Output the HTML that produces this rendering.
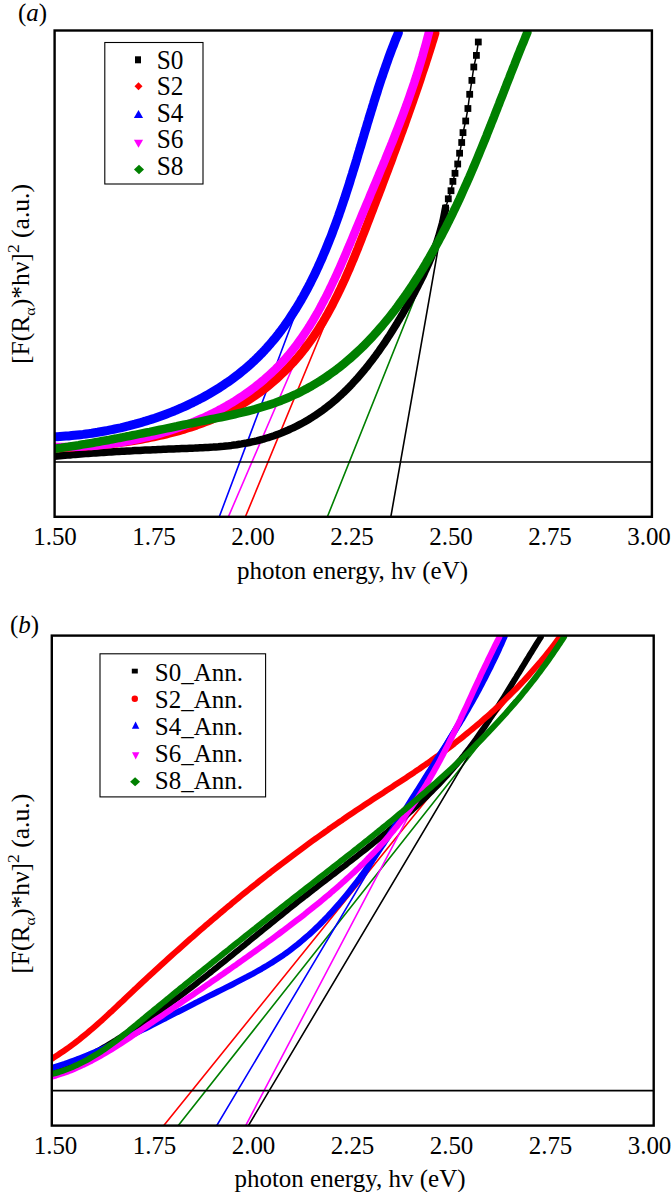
<!DOCTYPE html>
<html><head><meta charset="utf-8"><style>
html,body{margin:0;padding:0;background:#fff;width:672px;height:1192px;overflow:hidden;font-family:"Liberation Serif",serif;}
svg{display:block}
</style></head><body>
<svg width="672" height="1192" viewBox="0 0 672 1192">
<rect width="672" height="1192" fill="#fff"/>
<defs><clipPath id="ca"><rect x="55" y="31" width="596" height="485"/></clipPath><clipPath id="cb"><rect x="52" y="636" width="601" height="489"/></clipPath></defs>
<g clip-path="url(#ca)" fill="none" stroke-linejoin="round" stroke-linecap="round">
<line x1="219.2" y1="517" x2="300.6" y2="300" stroke="#0000ff" stroke-width="1.6"/>
<line x1="228.3" y1="517" x2="321.6" y2="300" stroke="#ff00ff" stroke-width="1.6"/>
<line x1="245.3" y1="517" x2="334.9" y2="300" stroke="#ff0000" stroke-width="1.6"/>
<line x1="327.3" y1="517" x2="434.1" y2="250" stroke="#008000" stroke-width="1.6"/>
<line x1="390.8" y1="517" x2="444.0" y2="215" stroke="#000000" stroke-width="1.6"/>
<path d="M54.6,456.3 L57.2,456.0 L59.8,455.8 L62.3,455.5 L64.9,455.3 L67.5,455.1 L70.1,454.9 L72.7,454.6 L75.2,454.4 L77.8,454.2 L80.4,454.0 L83.0,453.8 L85.6,453.6 L88.1,453.4 L90.7,453.2 L93.3,453.1 L95.9,452.9 L98.5,452.7 L101.0,452.5 L103.6,452.4 L106.2,452.2 L108.8,452.0 L111.4,451.9 L114.0,451.7 L116.5,451.6 L119.1,451.4 L121.7,451.3 L124.3,451.2 L126.9,451.0 L129.5,450.9 L132.1,450.8 L134.7,450.6 L137.3,450.5 L139.9,450.4 L142.5,450.2 L145.1,450.1 L147.7,450.0 L150.3,449.9 L152.9,449.8 L155.5,449.7 L158.1,449.5 L160.7,449.4 L163.3,449.3 L165.9,449.2 L168.5,449.1 L171.1,449.0 L173.8,448.9 L176.4,448.8 L179.0,448.7 L181.6,448.6 L184.2,448.5 L186.9,448.4 L189.5,448.3 L192.1,448.2 L194.8,448.1 L197.4,447.9 L200.0,447.8 L202.6,447.7 L205.3,447.5 L207.9,447.4 L210.5,447.2 L213.1,447.1 L215.8,446.9 L218.4,446.7 L221.0,446.4 L223.6,446.2 L226.2,445.9 L228.8,445.7 L231.4,445.4 L234.0,445.0 L236.6,444.7 L239.1,444.3 L241.7,443.9 L244.2,443.4 L246.8,443.0 L249.3,442.5 L251.9,441.9 L254.4,441.4 L256.9,440.8 L259.4,440.1 L261.9,439.5 L264.3,438.8 L266.8,438.0 L269.3,437.3 L271.7,436.5 L274.1,435.7 L276.5,434.8 L278.9,433.9 L281.3,433.0 L283.7,432.0 L286.1,431.0 L288.4,430.0 L290.7,428.9 L293.1,427.9 L295.4,426.7 L297.6,425.6 L299.9,424.4 L302.2,423.2 L304.4,422.0 L306.6,420.7 L308.8,419.4 L311.0,418.1 L313.2,416.7 L315.3,415.3 L317.4,413.9 L319.6,412.4 L321.7,410.9 L323.7,409.4 L325.8,407.9 L327.8,406.3 L329.8,404.7 L331.8,403.1 L333.8,401.4 L335.7,399.8 L337.7,398.1 L339.6,396.3 L341.5,394.6 L343.4,392.8 L345.2,391.0 L347.1,389.2 L348.9,387.3 L350.7,385.5 L352.5,383.6 L354.3,381.6 L356.0,379.7 L357.8,377.8 L359.5,375.8 L361.2,373.8 L362.9,371.8 L364.6,369.8 L366.2,367.7 L367.9,365.7 L369.5,363.6 L371.1,361.5 L372.7,359.4 L374.3,357.3 L375.9,355.2 L377.4,353.0 L379.0,350.9 L380.5,348.7 L382.0,346.5 L383.5,344.3 L385.0,342.2 L386.5,339.9 L387.9,337.7 L389.4,335.5 L390.8,333.3 L392.2,331.0 L393.6,328.8 L395.0,326.6 L396.4,324.3 L397.7,322.0 L399.1,319.8 L400.4,317.5 L401.8,315.3 L403.1,313.0 L404.4,310.7 L405.7,308.4 L407.0,306.2 L408.3,303.9 L409.5,301.6 L410.8,299.4 L412.0,297.1 L413.3,294.8 L414.5,292.6 L415.7,290.3 L416.9,288.0 L418.1,285.7 L419.2,283.4 L420.4,281.2 L421.5,278.9 L422.7,276.6 L423.8,274.3 L424.8,272.0 L425.9,269.7 L427.0,267.3 L428.0,265.0 L429.0,262.7 L430.0,260.3 L431.0,258.0 L431.9,255.6 L432.9,253.2 L433.8,250.9 L434.7,248.5 L435.5,246.0 L436.4,243.6 L437.2,241.2 L438.0,238.7 L438.8,236.3 L439.5,233.8 L440.2,231.3 L440.9,228.8 L441.6,226.3 L442.3,223.7 L442.9,221.2 L443.5,218.6 L444.0,216.0 L444.5,213.4 L445.0,210.8 L445.5,208.1" stroke="#000" stroke-width="7.5"/>
<polyline points="445.6,208.1 448.3,198.8 451.0,190.7 452.9,181.4 455.0,173.3 457.7,164.0 459.6,153.2 461.7,142.5 463.0,132.6 465.7,121.0 467.9,108.5 469.7,94.3 471.9,80.4 473.8,67.0 476.4,55.4 478.3,42.0" stroke="#000" stroke-width="1.5"/>
<rect x="442.2" y="204.7" width="6.8" height="6.8" fill="#000" stroke="none"/>
<rect x="444.9" y="195.4" width="6.8" height="6.8" fill="#000" stroke="none"/>
<rect x="447.6" y="187.3" width="6.8" height="6.8" fill="#000" stroke="none"/>
<rect x="449.5" y="178.0" width="6.8" height="6.8" fill="#000" stroke="none"/>
<rect x="451.6" y="169.9" width="6.8" height="6.8" fill="#000" stroke="none"/>
<rect x="454.3" y="160.6" width="6.8" height="6.8" fill="#000" stroke="none"/>
<rect x="456.2" y="149.8" width="6.8" height="6.8" fill="#000" stroke="none"/>
<rect x="458.3" y="139.1" width="6.8" height="6.8" fill="#000" stroke="none"/>
<rect x="459.6" y="129.2" width="6.8" height="6.8" fill="#000" stroke="none"/>
<rect x="462.3" y="117.6" width="6.8" height="6.8" fill="#000" stroke="none"/>
<rect x="464.5" y="105.1" width="6.8" height="6.8" fill="#000" stroke="none"/>
<rect x="466.3" y="90.9" width="6.8" height="6.8" fill="#000" stroke="none"/>
<rect x="468.5" y="77.0" width="6.8" height="6.8" fill="#000" stroke="none"/>
<rect x="470.4" y="63.6" width="6.8" height="6.8" fill="#000" stroke="none"/>
<rect x="473.0" y="52.0" width="6.8" height="6.8" fill="#000" stroke="none"/>
<rect x="474.9" y="38.6" width="6.8" height="6.8" fill="#000" stroke="none"/>
<path d="M54.7,448.2 L57.7,448.1 L60.7,448.0 L63.7,447.8 L66.7,447.6 L69.7,447.4 L72.7,447.3 L75.8,447.1 L78.8,446.8 L81.9,446.6 L85.0,446.4 L88.1,446.1 L91.1,445.9 L94.2,445.6 L97.4,445.3 L100.5,445.0 L103.6,444.7 L106.7,444.4 L109.8,444.0 L113.0,443.6 L116.1,443.3 L119.2,442.9 L122.4,442.4 L125.5,442.0 L128.7,441.5 L131.8,441.0 L134.9,440.5 L138.1,440.0 L141.2,439.5 L144.3,438.9 L147.5,438.3 L150.6,437.7 L153.7,437.1 L156.8,436.4 L159.9,435.7 L163.0,435.0 L166.1,434.3 L169.2,433.5 L172.3,432.7 L175.3,431.9 L178.4,431.1 L181.4,430.2 L184.5,429.3 L187.5,428.3 L190.5,427.4 L193.5,426.4 L196.5,425.4 L199.4,424.3 L202.4,423.2 L205.3,422.1 L208.3,421.0 L211.2,419.8 L214.0,418.5 L216.9,417.3 L219.7,416.0 L222.6,414.7 L225.4,413.3 L228.1,411.9 L230.9,410.5 L233.6,409.0 L236.4,407.5 L239.1,406.0 L241.7,404.4 L244.4,402.8 L247.0,401.2 L249.6,399.5 L252.2,397.8 L254.7,396.1 L257.2,394.3 L259.7,392.5 L262.2,390.6 L264.7,388.8 L267.1,386.9 L269.5,384.9 L271.8,383.0 L274.2,381.0 L276.5,379.0 L278.8,376.9 L281.0,374.8 L283.2,372.7 L285.4,370.6 L287.6,368.4 L289.7,366.2 L291.8,363.9 L293.9,361.7 L295.9,359.4 L298.0,357.0 L299.9,354.7 L301.9,352.3 L303.8,349.9 L305.7,347.5 L307.5,345.0 L309.3,342.5 L311.1,340.0 L312.9,337.5 L314.6,334.9 L316.3,332.4 L318.0,329.8 L319.7,327.2 L321.3,324.5 L322.9,321.9 L324.5,319.2 L326.0,316.5 L327.6,313.8 L329.1,311.0 L330.6,308.3 L332.1,305.5 L333.5,302.7 L334.9,299.9 L336.3,297.1 L337.7,294.3 L339.1,291.4 L340.5,288.6 L341.8,285.7 L343.1,282.9 L344.5,280.0 L345.8,277.1 L347.0,274.2 L348.3,271.3 L349.6,268.4 L350.8,265.4 L352.0,262.5 L353.3,259.6 L354.5,256.6 L355.7,253.7 L356.9,250.7 L358.1,247.8 L359.2,244.8 L360.4,241.9 L361.6,238.9 L362.7,235.9 L363.9,233.0 L365.0,230.0 L366.2,227.1 L367.3,224.1 L368.4,221.2 L369.6,218.2 L370.7,215.3 L371.8,212.3 L373.0,209.4 L374.1,206.4 L375.2,203.5 L376.3,200.6 L377.4,197.7 L378.6,194.7 L379.7,191.8 L380.8,188.9 L381.9,186.0 L383.0,183.1 L384.1,180.1 L385.2,177.2 L386.3,174.3 L387.4,171.4 L388.5,168.5 L389.6,165.6 L390.7,162.7 L391.8,159.8 L392.8,156.9 L393.9,153.9 L395.0,151.0 L396.1,148.1 L397.1,145.2 L398.2,142.3 L399.3,139.4 L400.3,136.5 L401.4,133.6 L402.5,130.7 L403.5,127.8 L404.6,124.9 L405.6,121.9 L406.6,119.0 L407.7,116.1 L408.7,113.2 L409.7,110.3 L410.8,107.3 L411.8,104.4 L412.8,101.5 L413.8,98.6 L414.9,95.6 L415.9,92.7 L416.9,89.7 L417.9,86.8 L418.9,83.9 L419.9,80.9 L420.9,77.9 L421.8,75.0 L422.8,72.0 L423.8,69.1 L424.8,66.1 L425.8,63.1 L426.7,60.1 L427.7,57.1 L428.6,54.2 L429.6,51.2 L430.5,48.2 L431.5,45.1 L432.4,42.1 L433.4,39.1 L434.3,36.1 L435.2,33.1" stroke="#ff0000" stroke-width="8.5"/>
<path d="M54.4,436.9 L57.3,436.7 L60.1,436.5 L63.0,436.3 L65.9,436.1 L68.7,435.9 L71.6,435.6 L74.5,435.3 L77.4,435.0 L80.3,434.7 L83.1,434.4 L86.0,434.0 L88.9,433.6 L91.8,433.2 L94.7,432.7 L97.6,432.3 L100.5,431.8 L103.4,431.3 L106.3,430.8 L109.2,430.2 L112.0,429.6 L114.9,429.0 L117.8,428.4 L120.7,427.8 L123.6,427.1 L126.4,426.4 L129.3,425.7 L132.2,424.9 L135.0,424.2 L137.9,423.4 L140.7,422.6 L143.6,421.7 L146.4,420.9 L149.2,420.0 L152.0,419.1 L154.8,418.2 L157.6,417.2 L160.4,416.2 L163.2,415.2 L165.9,414.2 L168.7,413.1 L171.4,412.1 L174.2,411.0 L176.9,409.8 L179.6,408.7 L182.3,407.5 L185.0,406.3 L187.6,405.1 L190.3,403.8 L192.9,402.6 L195.5,401.3 L198.1,399.9 L200.7,398.6 L203.3,397.2 L205.9,395.8 L208.4,394.4 L210.9,392.9 L213.4,391.4 L215.9,389.9 L218.4,388.4 L220.8,386.8 L223.2,385.2 L225.6,383.6 L228.0,382.0 L230.4,380.3 L232.7,378.6 L235.0,376.9 L237.3,375.2 L239.6,373.4 L241.8,371.6 L244.0,369.8 L246.2,367.9 L248.4,366.1 L250.5,364.2 L252.6,362.2 L254.7,360.3 L256.8,358.3 L258.8,356.3 L260.8,354.2 L262.8,352.2 L264.8,350.1 L266.7,348.0 L268.6,345.8 L270.5,343.7 L272.3,341.5 L274.2,339.3 L276.0,337.1 L277.8,334.8 L279.5,332.5 L281.3,330.2 L283.0,327.9 L284.7,325.6 L286.3,323.2 L288.0,320.9 L289.6,318.5 L291.2,316.0 L292.8,313.6 L294.3,311.2 L295.9,308.7 L297.4,306.2 L298.9,303.7 L300.4,301.2 L301.8,298.7 L303.3,296.2 L304.7,293.6 L306.1,291.0 L307.5,288.5 L308.8,285.9 L310.2,283.3 L311.5,280.6 L312.8,278.0 L314.1,275.4 L315.4,272.7 L316.6,270.1 L317.9,267.4 L319.1,264.7 L320.3,262.0 L321.5,259.3 L322.7,256.6 L323.8,253.9 L325.0,251.2 L326.1,248.5 L327.2,245.8 L328.3,243.0 L329.4,240.3 L330.5,237.6 L331.6,234.8 L332.6,232.1 L333.6,229.3 L334.7,226.5 L335.7,223.8 L336.7,221.0 L337.7,218.3 L338.7,215.5 L339.6,212.7 L340.6,209.9 L341.6,207.1 L342.5,204.4 L343.4,201.6 L344.4,198.8 L345.3,196.0 L346.2,193.2 L347.1,190.4 L348.0,187.6 L348.9,184.8 L349.8,182.0 L350.6,179.2 L351.5,176.4 L352.4,173.6 L353.2,170.8 L354.1,168.0 L355.0,165.2 L355.8,162.4 L356.7,159.6 L357.5,156.8 L358.3,153.9 L359.2,151.1 L360.0,148.3 L360.9,145.5 L361.7,142.7 L362.5,139.9 L363.4,137.1 L364.2,134.3 L365.0,131.5 L365.9,128.7 L366.7,125.9 L367.5,123.1 L368.4,120.3 L369.2,117.5 L370.1,114.7 L370.9,111.9 L371.8,109.1 L372.6,106.4 L373.5,103.6 L374.3,100.8 L375.2,98.0 L376.1,95.2 L377.0,92.5 L377.8,89.7 L378.7,86.9 L379.6,84.2 L380.5,81.4 L381.4,78.7 L382.4,75.9 L383.3,73.2 L384.2,70.5 L385.2,67.7 L386.1,65.0 L387.1,62.3 L388.0,59.6 L389.0,56.8 L390.0,54.1 L391.0,51.4 L392.0,48.7 L393.1,46.1 L394.1,43.4 L395.1,40.7 L396.2,38.0 L397.3,35.4 L398.4,32.7" stroke="#0000ff" stroke-width="9"/>
<path d="M54.6,446.8 L57.6,446.9 L60.6,447.0 L63.7,447.0 L66.7,447.0 L69.7,446.9 L72.7,446.9 L75.8,446.8 L78.8,446.7 L81.9,446.5 L84.9,446.3 L88.0,446.1 L91.0,445.9 L94.1,445.7 L97.2,445.4 L100.3,445.1 L103.3,444.8 L106.4,444.4 L109.5,444.0 L112.5,443.6 L115.6,443.1 L118.7,442.7 L121.7,442.2 L124.8,441.7 L127.9,441.1 L130.9,440.5 L134.0,439.9 L137.1,439.3 L140.1,438.6 L143.1,437.9 L146.2,437.2 L149.2,436.5 L152.2,435.7 L155.3,434.9 L158.3,434.1 L161.3,433.2 L164.3,432.3 L167.2,431.4 L170.2,430.5 L173.2,429.5 L176.1,428.5 L179.1,427.5 L182.0,426.4 L184.9,425.4 L187.8,424.2 L190.7,423.1 L193.6,421.9 L196.5,420.7 L199.3,419.5 L202.2,418.3 L205.0,417.0 L207.8,415.7 L210.6,414.3 L213.3,413.0 L216.1,411.6 L218.8,410.1 L221.5,408.7 L224.2,407.2 L226.9,405.7 L229.5,404.1 L232.2,402.6 L234.8,401.0 L237.4,399.3 L239.9,397.7 L242.5,396.0 L245.0,394.3 L247.5,392.5 L250.0,390.7 L252.4,388.9 L254.8,387.1 L257.2,385.2 L259.6,383.3 L261.9,381.4 L264.3,379.4 L266.5,377.4 L268.8,375.4 L271.0,373.4 L273.2,371.3 L275.4,369.2 L277.5,367.1 L279.6,364.9 L281.7,362.7 L283.8,360.5 L285.8,358.2 L287.8,355.9 L289.7,353.6 L291.6,351.3 L293.5,348.9 L295.4,346.5 L297.2,344.1 L299.0,341.6 L300.8,339.1 L302.5,336.6 L304.2,334.1 L305.9,331.6 L307.6,329.0 L309.3,326.4 L310.9,323.8 L312.5,321.2 L314.1,318.5 L315.6,315.9 L317.2,313.2 L318.7,310.5 L320.2,307.8 L321.6,305.0 L323.1,302.3 L324.5,299.5 L326.0,296.8 L327.4,294.0 L328.8,291.2 L330.1,288.4 L331.5,285.5 L332.8,282.7 L334.2,279.9 L335.5,277.0 L336.8,274.2 L338.1,271.3 L339.4,268.4 L340.7,265.6 L341.9,262.7 L343.2,259.8 L344.4,256.9 L345.7,254.0 L346.9,251.1 L348.1,248.2 L349.4,245.3 L350.6,242.4 L351.8,239.5 L353.0,236.6 L354.2,233.7 L355.4,230.8 L356.6,227.9 L357.8,225.0 L359.0,222.2 L360.2,219.3 L361.4,216.4 L362.6,213.5 L363.8,210.7 L365.0,207.8 L366.2,205.0 L367.4,202.1 L368.6,199.3 L369.8,196.5 L370.9,193.6 L372.1,190.8 L373.3,188.0 L374.5,185.1 L375.7,182.3 L376.9,179.5 L378.1,176.7 L379.2,173.9 L380.4,171.0 L381.6,168.2 L382.8,165.4 L383.9,162.6 L385.1,159.8 L386.2,157.0 L387.4,154.2 L388.5,151.3 L389.7,148.5 L390.8,145.7 L392.0,142.9 L393.1,140.1 L394.2,137.2 L395.3,134.4 L396.4,131.6 L397.5,128.8 L398.6,125.9 L399.7,123.1 L400.8,120.2 L401.9,117.4 L403.0,114.5 L404.0,111.7 L405.1,108.8 L406.1,105.9 L407.2,103.1 L408.2,100.2 L409.2,97.3 L410.2,94.4 L411.2,91.5 L412.2,88.6 L413.2,85.7 L414.2,82.8 L415.1,79.8 L416.1,76.9 L417.0,74.0 L418.0,71.0 L418.9,68.0 L419.8,65.1 L420.7,62.1 L421.6,59.1 L422.5,56.1 L423.3,53.0 L424.2,50.0 L425.0,47.0 L425.9,43.9 L426.7,40.9 L427.5,37.8 L428.3,34.7 L429.1,31.6" stroke="#ff00ff" stroke-width="8.5"/>
<path d="M54.6,448.7 L58.1,448.2 L61.5,447.8 L64.9,447.3 L68.3,446.8 L71.7,446.2 L75.2,445.7 L78.6,445.2 L82.0,444.6 L85.4,444.1 L88.8,443.5 L92.2,442.9 L95.6,442.3 L99.0,441.7 L102.3,441.1 L105.7,440.5 L109.1,439.9 L112.5,439.2 L115.9,438.6 L119.3,437.9 L122.7,437.3 L126.1,436.6 L129.4,436.0 L132.8,435.3 L136.2,434.6 L139.6,433.9 L143.0,433.2 L146.4,432.5 L149.7,431.9 L153.1,431.2 L156.5,430.5 L159.9,429.8 L163.3,429.1 L166.7,428.4 L170.1,427.7 L173.5,427.0 L176.9,426.3 L180.3,425.5 L183.7,424.8 L187.1,424.1 L190.5,423.4 L193.9,422.8 L197.3,422.1 L200.7,421.4 L204.1,420.7 L207.6,420.0 L211.0,419.3 L214.4,418.6 L217.8,417.9 L221.2,417.2 L224.6,416.5 L228.0,415.7 L231.4,415.0 L234.8,414.2 L238.2,413.4 L241.6,412.6 L245.0,411.8 L248.3,411.0 L251.7,410.1 L255.0,409.2 L258.3,408.2 L261.6,407.2 L264.9,406.2 L268.2,405.2 L271.5,404.1 L274.7,403.0 L277.9,401.8 L281.1,400.6 L284.3,399.3 L287.4,398.0 L290.6,396.6 L293.7,395.2 L296.8,393.8 L299.8,392.3 L302.9,390.7 L305.9,389.2 L308.9,387.5 L311.8,385.9 L314.8,384.1 L317.7,382.4 L320.6,380.6 L323.4,378.7 L326.3,376.8 L329.1,374.9 L331.8,372.9 L334.6,370.9 L337.3,368.9 L340.0,366.8 L342.7,364.7 L345.3,362.5 L347.9,360.3 L350.5,358.1 L353.1,355.8 L355.6,353.5 L358.1,351.1 L360.6,348.8 L363.1,346.4 L365.5,343.9 L367.9,341.5 L370.3,339.0 L372.7,336.5 L375.0,333.9 L377.3,331.3 L379.6,328.7 L381.9,326.1 L384.1,323.4 L386.3,320.8 L388.5,318.1 L390.7,315.3 L392.8,312.6 L395.0,309.8 L397.1,307.0 L399.1,304.2 L401.2,301.4 L403.2,298.5 L405.3,295.7 L407.3,292.8 L409.2,289.9 L411.2,287.0 L413.1,284.1 L415.0,281.1 L416.9,278.2 L418.8,275.2 L420.6,272.2 L422.5,269.2 L424.3,266.2 L426.1,263.2 L427.8,260.2 L429.6,257.2 L431.3,254.2 L433.0,251.1 L434.7,248.1 L436.4,245.0 L438.1,242.0 L439.7,238.9 L441.3,235.9 L442.9,232.8 L444.5,229.7 L446.1,226.7 L447.6,223.6 L449.2,220.5 L450.7,217.4 L452.2,214.3 L453.7,211.2 L455.2,208.1 L456.7,205.0 L458.1,201.9 L459.6,198.8 L461.0,195.7 L462.4,192.6 L463.8,189.4 L465.2,186.3 L466.6,183.2 L468.0,180.0 L469.4,176.9 L470.7,173.8 L472.1,170.6 L473.4,167.5 L474.8,164.3 L476.1,161.2 L477.4,158.0 L478.7,154.8 L480.0,151.7 L481.3,148.5 L482.6,145.3 L483.9,142.1 L485.2,139.0 L486.5,135.8 L487.7,132.6 L489.0,129.4 L490.3,126.2 L491.5,123.0 L492.8,119.8 L494.1,116.6 L495.3,113.4 L496.6,110.2 L497.8,107.0 L499.1,103.8 L500.3,100.6 L501.6,97.3 L502.9,94.1 L504.1,90.9 L505.4,87.7 L506.6,84.4 L507.9,81.2 L509.2,78.0 L510.4,74.7 L511.7,71.5 L513.0,68.2 L514.3,65.0 L515.5,61.8 L516.8,58.5 L518.1,55.2 L519.4,52.0 L520.7,48.7 L522.0,45.5 L523.4,42.2 L524.7,39.0 L526.0,35.7 L527.4,32.4" stroke="#008000" stroke-width="8.6"/>
</g>
<line x1="54" y1="462" x2="652" y2="462" stroke="#000" stroke-width="1.6"/>
<rect x="54.6" y="30.5" width="597.3" height="486.3" fill="none" stroke="#000" stroke-width="2.4"/>
<rect x="104.8" y="42.5" width="98.2" height="141.5" fill="#fff" stroke="#000" stroke-width="1.1"/>
<text transform="translate(156.8,69.0) scale(1,1.06)" font-family="Liberation Serif" font-size="25.3">S0</text>
<text transform="translate(156.8,95.3) scale(1,1.06)" font-family="Liberation Serif" font-size="25.3">S2</text>
<text transform="translate(156.8,121.8) scale(1,1.06)" font-family="Liberation Serif" font-size="25.3">S4</text>
<text transform="translate(156.8,148.3) scale(1,1.06)" font-family="Liberation Serif" font-size="25.3">S6</text>
<text transform="translate(156.8,175.0) scale(1,1.06)" font-family="Liberation Serif" font-size="25.3">S8</text>
<rect x="135" y="56.3" width="6" height="7" fill="#000"/>
<polygon points="138.5,82.3 142.5,86.3 138.5,90.3 134.5,86.3" fill="#ff0000"/>
<polygon points="138.5,110.0 143.1,118.0 133.9,118.0" fill="#0000ff"/>
<polygon points="138.5,147.70000000000002 143.1,139.70000000000002 133.9,139.70000000000002" fill="#ff00ff"/>
<polygon points="139.0,164.7 144.0,169.5 139.0,174.3 134.0,169.5" fill="#008000"/>
<g clip-path="url(#cb)" fill="none" stroke-linejoin="round" stroke-linecap="round">
<line x1="163.4" y1="1126" x2="507.2" y2="700" stroke="#ff0000" stroke-width="1.6"/>
<line x1="177.9" y1="1126" x2="514.4" y2="700" stroke="#008000" stroke-width="1.6"/>
<line x1="216.5" y1="1126" x2="470.4" y2="700" stroke="#0000ff" stroke-width="1.6"/>
<line x1="245.5" y1="1126" x2="469.6" y2="700" stroke="#ff00ff" stroke-width="1.6"/>
<line x1="248.2" y1="1126" x2="489.8" y2="720" stroke="#000000" stroke-width="1.6"/>
<path d="M53.0,1073.7 L56.0,1072.3 L59.1,1070.9 L62.1,1069.5 L65.2,1068.0 L68.2,1066.6 L71.2,1065.1 L74.2,1063.6 L77.2,1062.1 L80.1,1060.5 L83.1,1059.0 L86.0,1057.4 L89.0,1055.8 L91.9,1054.2 L94.8,1052.6 L97.7,1051.0 L100.6,1049.3 L103.4,1047.7 L106.3,1046.0 L109.1,1044.3 L112.0,1042.6 L114.8,1040.9 L117.6,1039.1 L120.4,1037.4 L123.2,1035.6 L126.0,1033.8 L128.8,1032.1 L131.6,1030.2 L134.4,1028.4 L137.1,1026.6 L139.9,1024.8 L142.6,1022.9 L145.3,1021.0 L148.1,1019.2 L150.8,1017.3 L153.5,1015.4 L156.2,1013.5 L158.9,1011.6 L161.6,1009.6 L164.3,1007.7 L166.9,1005.7 L169.6,1003.8 L172.3,1001.8 L174.9,999.8 L177.6,997.9 L180.2,995.9 L182.9,993.9 L185.5,991.9 L188.1,989.9 L190.8,987.8 L193.4,985.8 L196.0,983.8 L198.6,981.7 L201.3,979.7 L203.9,977.6 L206.5,975.6 L209.1,973.5 L211.7,971.5 L214.3,969.4 L216.9,967.3 L219.5,965.2 L222.1,963.1 L224.7,961.1 L227.3,959.0 L229.8,956.9 L232.4,954.8 L235.0,952.7 L237.6,950.6 L240.2,948.5 L242.8,946.4 L245.4,944.3 L248.0,942.1 L250.5,940.0 L253.1,937.9 L255.7,935.8 L258.3,933.7 L260.9,931.6 L263.5,929.5 L266.1,927.4 L268.7,925.3 L271.3,923.2 L273.9,921.1 L276.5,919.0 L279.1,916.9 L281.7,914.8 L284.3,912.7 L286.9,910.6 L289.5,908.5 L292.1,906.4 L294.8,904.3 L297.4,902.2 L300.0,900.2 L302.7,898.1 L305.3,896.0 L307.9,894.0 L310.6,891.9 L313.2,889.8 L315.9,887.8 L318.6,885.7 L321.2,883.7 L323.9,881.7 L326.5,879.6 L329.2,877.6 L331.9,875.5 L334.5,873.5 L337.2,871.4 L339.8,869.4 L342.5,867.3 L345.2,865.3 L347.8,863.2 L350.5,861.2 L353.1,859.1 L355.8,857.1 L358.4,855.0 L361.0,852.9 L363.7,850.9 L366.3,848.8 L368.9,846.7 L371.5,844.6 L374.1,842.5 L376.7,840.4 L379.3,838.3 L381.9,836.2 L384.5,834.1 L387.1,832.0 L389.6,829.8 L392.2,827.7 L394.7,825.5 L397.3,823.4 L399.8,821.2 L402.3,819.0 L404.8,816.8 L407.3,814.6 L409.7,812.4 L412.2,810.2 L414.6,807.9 L417.1,805.7 L419.5,803.4 L421.9,801.1 L424.3,798.8 L426.7,796.5 L429.0,794.2 L431.4,791.9 L433.7,789.5 L436.0,787.2 L438.3,784.8 L440.6,782.4 L442.8,780.0 L445.1,777.5 L447.3,775.1 L449.5,772.6 L451.7,770.1 L453.8,767.6 L456.0,765.1 L458.1,762.5 L460.2,760.0 L462.2,757.4 L464.3,754.8 L466.3,752.1 L468.4,749.5 L470.4,746.8 L472.3,744.2 L474.3,741.5 L476.3,738.8 L478.2,736.1 L480.1,733.3 L482.0,730.6 L483.9,727.9 L485.8,725.1 L487.6,722.3 L489.5,719.5 L491.3,716.7 L493.2,713.9 L495.0,711.1 L496.8,708.3 L498.6,705.5 L500.4,702.6 L502.2,699.8 L504.0,697.0 L505.8,694.1 L507.5,691.3 L509.3,688.4 L511.0,685.6 L512.8,682.7 L514.5,679.8 L516.3,677.0 L518.0,674.1 L519.8,671.3 L521.5,668.4 L523.3,665.5 L525.0,662.7 L526.7,659.8 L528.5,657.0 L530.2,654.1 L532.0,651.3 L533.7,648.5 L535.5,645.6 L537.2,642.8 L539.0,640.0 L540.8,637.2" stroke-width="6" stroke="#000"/>
<path d="M52.1,1058.6 L55.0,1056.8 L57.8,1055.0 L60.6,1053.1 L63.4,1051.2 L66.2,1049.3 L68.9,1047.4 L71.6,1045.4 L74.3,1043.4 L76.9,1041.3 L79.5,1039.3 L82.1,1037.2 L84.7,1035.1 L87.3,1033.0 L89.8,1030.8 L92.3,1028.7 L94.9,1026.5 L97.4,1024.3 L99.8,1022.1 L102.3,1019.9 L104.8,1017.6 L107.2,1015.4 L109.6,1013.1 L112.1,1010.9 L114.5,1008.6 L116.9,1006.3 L119.3,1004.0 L121.8,1001.8 L124.2,999.5 L126.6,997.2 L129.0,994.9 L131.4,992.6 L133.8,990.3 L136.2,988.1 L138.7,985.8 L141.1,983.5 L143.5,981.3 L146.0,979.0 L148.4,976.7 L150.8,974.5 L153.3,972.2 L155.7,970.0 L158.2,967.7 L160.6,965.5 L163.1,963.2 L165.6,961.0 L168.0,958.8 L170.5,956.5 L173.0,954.3 L175.4,952.1 L177.9,949.9 L180.4,947.7 L182.9,945.5 L185.4,943.2 L187.9,941.0 L190.4,938.8 L192.9,936.7 L195.4,934.5 L197.9,932.3 L200.4,930.1 L202.9,927.9 L205.4,925.7 L208.0,923.6 L210.5,921.4 L213.0,919.3 L215.6,917.1 L218.1,915.0 L220.6,912.8 L223.2,910.7 L225.7,908.5 L228.3,906.4 L230.9,904.3 L233.4,902.1 L236.0,900.0 L238.6,897.9 L241.1,895.8 L243.7,893.7 L246.3,891.6 L248.9,889.5 L251.5,887.4 L254.1,885.3 L256.7,883.3 L259.3,881.2 L261.9,879.1 L264.5,877.1 L267.2,875.0 L269.8,873.0 L272.4,870.9 L275.1,868.9 L277.7,866.9 L280.3,864.8 L283.0,862.8 L285.7,860.8 L288.3,858.8 L291.0,856.8 L293.6,854.8 L296.3,852.8 L299.0,850.8 L301.7,848.8 L304.4,846.8 L307.0,844.9 L309.7,842.9 L312.4,840.9 L315.1,839.0 L317.8,837.1 L320.6,835.1 L323.3,833.2 L326.0,831.3 L328.7,829.3 L331.4,827.4 L334.2,825.5 L336.9,823.6 L339.6,821.7 L342.4,819.9 L345.1,818.0 L347.9,816.1 L350.6,814.2 L353.3,812.4 L356.1,810.5 L358.9,808.7 L361.6,806.9 L364.4,805.0 L367.1,803.2 L369.9,801.4 L372.7,799.6 L375.4,797.8 L378.2,796.0 L381.0,794.2 L383.8,792.4 L386.5,790.5 L389.3,788.7 L392.1,786.9 L394.8,785.1 L397.6,783.3 L400.4,781.5 L403.1,779.7 L405.9,777.9 L408.6,776.1 L411.4,774.2 L414.1,772.4 L416.8,770.5 L419.6,768.7 L422.3,766.8 L425.0,764.9 L427.7,763.1 L430.4,761.2 L433.1,759.2 L435.8,757.3 L438.5,755.4 L441.2,753.4 L443.8,751.5 L446.5,749.5 L449.2,747.5 L451.8,745.5 L454.4,743.5 L457.0,741.4 L459.7,739.4 L462.3,737.3 L464.9,735.2 L467.4,733.1 L470.0,731.0 L472.6,728.9 L475.1,726.8 L477.7,724.6 L480.2,722.5 L482.7,720.3 L485.2,718.1 L487.7,715.9 L490.2,713.7 L492.6,711.4 L495.1,709.2 L497.5,706.9 L500.0,704.7 L502.4,702.4 L504.8,700.0 L507.2,697.7 L509.5,695.4 L511.9,693.0 L514.2,690.7 L516.6,688.3 L518.9,685.9 L521.2,683.4 L523.5,681.0 L525.7,678.6 L528.0,676.1 L530.2,673.6 L532.4,671.1 L534.6,668.6 L536.8,666.1 L539.0,663.5 L541.2,661.0 L543.3,658.4 L545.4,655.8 L547.5,653.2 L549.6,650.5 L551.7,647.9 L553.7,645.2 L555.7,642.6 L557.7,639.9 L559.7,637.2" stroke-width="6" stroke="#ff0000"/>
<path d="M52.2,1067.8 L55.3,1066.8 L58.5,1065.8 L61.6,1064.8 L64.7,1063.8 L67.7,1062.7 L70.8,1061.6 L73.9,1060.5 L77.0,1059.4 L80.0,1058.2 L83.0,1057.0 L86.1,1055.8 L89.1,1054.6 L92.1,1053.3 L95.1,1052.1 L98.1,1050.8 L101.1,1049.5 L104.1,1048.2 L107.1,1046.8 L110.0,1045.5 L113.0,1044.1 L115.9,1042.7 L118.9,1041.4 L121.8,1040.0 L124.8,1038.6 L127.7,1037.1 L130.7,1035.7 L133.6,1034.3 L136.5,1032.8 L139.4,1031.4 L142.4,1029.9 L145.3,1028.5 L148.2,1027.0 L151.1,1025.5 L154.0,1024.1 L156.9,1022.6 L159.8,1021.1 L162.7,1019.6 L165.7,1018.2 L168.6,1016.7 L171.5,1015.2 L174.4,1013.7 L177.3,1012.2 L180.2,1010.8 L183.1,1009.3 L186.0,1007.8 L188.9,1006.3 L191.8,1004.8 L194.7,1003.3 L197.6,1001.9 L200.5,1000.4 L203.5,998.9 L206.4,997.4 L209.3,995.9 L212.2,994.5 L215.2,993.0 L218.1,991.5 L221.0,990.1 L224.0,988.6 L226.9,987.1 L229.8,985.7 L232.8,984.2 L235.7,982.7 L238.6,981.2 L241.5,979.7 L244.4,978.2 L247.3,976.7 L250.2,975.1 L253.1,973.6 L255.9,972.0 L258.8,970.4 L261.6,968.8 L264.4,967.1 L267.2,965.5 L270.0,963.8 L272.8,962.1 L275.5,960.3 L278.2,958.5 L280.9,956.7 L283.6,954.9 L286.3,953.0 L288.9,951.1 L291.5,949.1 L294.0,947.2 L296.6,945.2 L299.1,943.1 L301.6,941.0 L304.1,938.9 L306.5,936.8 L309.0,934.7 L311.4,932.5 L313.7,930.3 L316.1,928.0 L318.4,925.8 L320.8,923.5 L323.1,921.2 L325.3,918.8 L327.6,916.5 L329.8,914.1 L332.0,911.7 L334.2,909.3 L336.4,906.8 L338.6,904.4 L340.7,901.9 L342.8,899.4 L344.9,896.9 L347.0,894.3 L349.0,891.8 L351.1,889.2 L353.1,886.7 L355.1,884.1 L357.1,881.5 L359.1,878.9 L361.0,876.2 L363.0,873.6 L364.9,871.0 L366.8,868.3 L368.7,865.6 L370.6,862.9 L372.4,860.3 L374.3,857.6 L376.1,854.9 L378.0,852.1 L379.8,849.4 L381.6,846.7 L383.4,844.0 L385.2,841.2 L387.0,838.5 L388.8,835.7 L390.5,833.0 L392.3,830.2 L394.0,827.5 L395.8,824.7 L397.5,822.0 L399.3,819.2 L401.0,816.5 L402.7,813.7 L404.5,810.9 L406.2,808.2 L407.9,805.4 L409.6,802.7 L411.3,799.9 L413.0,797.2 L414.8,794.4 L416.5,791.7 L418.2,789.0 L419.9,786.2 L421.6,783.5 L423.3,780.8 L425.0,778.0 L426.7,775.3 L428.4,772.6 L430.2,769.9 L431.9,767.2 L433.6,764.5 L435.3,761.8 L437.0,759.0 L438.8,756.3 L440.5,753.6 L442.2,750.9 L444.0,748.2 L445.7,745.5 L447.4,742.8 L449.1,740.1 L450.8,737.4 L452.6,734.7 L454.3,732.0 L456.0,729.2 L457.6,726.5 L459.3,723.8 L461.0,721.0 L462.7,718.3 L464.3,715.5 L465.9,712.7 L467.6,709.9 L469.2,707.1 L470.8,704.3 L472.4,701.5 L474.0,698.6 L475.6,695.8 L477.1,692.9 L478.7,690.1 L480.2,687.2 L481.7,684.3 L483.2,681.4 L484.8,678.5 L486.2,675.6 L487.7,672.7 L489.2,669.7 L490.7,666.8 L492.1,663.8 L493.5,660.9 L495.0,657.9 L496.4,654.9 L497.8,651.9 L499.2,648.9 L500.5,645.9 L501.9,642.9 L503.2,639.9 L504.6,636.8" stroke-width="6" stroke="#0000ff"/>
<path d="M53.0,1076.4 L56.1,1075.5 L59.2,1074.5 L62.3,1073.5 L65.3,1072.4 L68.4,1071.3 L71.4,1070.1 L74.3,1068.9 L77.3,1067.6 L80.2,1066.3 L83.1,1064.9 L86.0,1063.6 L88.8,1062.1 L91.7,1060.7 L94.5,1059.2 L97.3,1057.6 L100.1,1056.1 L102.9,1054.5 L105.6,1052.9 L108.4,1051.2 L111.1,1049.6 L113.8,1047.9 L116.6,1046.2 L119.3,1044.5 L122.0,1042.7 L124.6,1041.0 L127.3,1039.2 L130.0,1037.4 L132.7,1035.6 L135.3,1033.8 L138.0,1032.0 L140.7,1030.2 L143.3,1028.4 L146.0,1026.6 L148.6,1024.8 L151.3,1022.9 L154.0,1021.1 L156.6,1019.3 L159.3,1017.5 L162.0,1015.7 L164.6,1013.9 L167.3,1012.1 L170.0,1010.2 L172.6,1008.4 L175.3,1006.6 L178.0,1004.8 L180.6,1003.0 L183.3,1001.1 L186.0,999.3 L188.6,997.5 L191.3,995.7 L194.0,993.9 L196.6,992.0 L199.3,990.2 L202.0,988.4 L204.7,986.6 L207.3,984.7 L210.0,982.9 L212.6,981.0 L215.3,979.2 L218.0,977.4 L220.6,975.5 L223.3,973.7 L226.0,971.8 L228.6,970.0 L231.3,968.1 L233.9,966.2 L236.6,964.4 L239.2,962.5 L241.9,960.6 L244.5,958.8 L247.2,956.9 L249.8,955.0 L252.4,953.1 L255.1,951.2 L257.7,949.3 L260.4,947.4 L263.0,945.5 L265.6,943.6 L268.2,941.7 L270.8,939.8 L273.5,937.8 L276.1,935.9 L278.7,934.0 L281.3,932.0 L283.9,930.1 L286.5,928.1 L289.1,926.2 L291.7,924.2 L294.3,922.2 L296.9,920.2 L299.4,918.3 L302.0,916.3 L304.6,914.3 L307.1,912.2 L309.7,910.2 L312.2,908.2 L314.7,906.2 L317.3,904.1 L319.8,902.1 L322.3,900.0 L324.8,897.9 L327.3,895.8 L329.8,893.8 L332.2,891.6 L334.7,889.5 L337.1,887.4 L339.6,885.3 L342.0,883.1 L344.4,881.0 L346.8,878.8 L349.2,876.6 L351.6,874.4 L354.0,872.2 L356.3,870.0 L358.6,867.8 L361.0,865.5 L363.3,863.3 L365.6,861.0 L367.8,858.7 L370.1,856.4 L372.3,854.1 L374.6,851.8 L376.8,849.5 L379.0,847.1 L381.1,844.7 L383.3,842.4 L385.4,840.0 L387.6,837.6 L389.7,835.1 L391.7,832.7 L393.8,830.2 L395.8,827.7 L397.9,825.2 L399.9,822.7 L401.8,820.2 L403.8,817.6 L405.7,815.1 L407.6,812.5 L409.5,809.9 L411.4,807.3 L413.3,804.6 L415.1,802.0 L416.9,799.3 L418.7,796.6 L420.4,793.9 L422.1,791.2 L423.9,788.4 L425.6,785.7 L427.2,782.9 L428.9,780.1 L430.5,777.3 L432.1,774.5 L433.7,771.7 L435.3,768.8 L436.9,766.0 L438.5,763.1 L440.0,760.3 L441.5,757.4 L443.0,754.5 L444.5,751.6 L446.0,748.7 L447.5,745.8 L449.0,742.8 L450.4,739.9 L451.9,737.0 L453.3,734.0 L454.7,731.1 L456.1,728.1 L457.6,725.2 L459.0,722.2 L460.4,719.3 L461.7,716.3 L463.1,713.3 L464.5,710.4 L465.9,707.4 L467.3,704.4 L468.6,701.5 L470.0,698.5 L471.4,695.5 L472.7,692.6 L474.1,689.6 L475.5,686.6 L476.8,683.7 L478.2,680.7 L479.6,677.8 L480.9,674.8 L482.3,671.9 L483.7,669.0 L485.1,666.1 L486.5,663.2 L487.9,660.2 L489.3,657.4 L490.7,654.5 L492.1,651.6 L493.5,648.7 L494.9,645.9 L496.4,643.0 L497.8,640.2 L499.3,637.4" stroke-width="6" stroke="#ff00ff"/>
<path d="M52.3,1073.9 L55.7,1073.0 L59.1,1072.0 L62.4,1070.9 L65.6,1069.7 L68.8,1068.5 L72.0,1067.2 L75.1,1065.8 L78.2,1064.4 L81.2,1062.9 L84.2,1061.4 L87.2,1059.8 L90.1,1058.1 L93.0,1056.4 L95.9,1054.7 L98.7,1052.9 L101.6,1051.1 L104.4,1049.2 L107.1,1047.3 L109.9,1045.3 L112.6,1043.4 L115.3,1041.4 L118.0,1039.3 L120.7,1037.3 L123.3,1035.2 L126.0,1033.1 L128.6,1031.0 L131.2,1028.8 L133.9,1026.7 L136.5,1024.6 L139.1,1022.4 L141.7,1020.2 L144.3,1018.1 L146.9,1015.9 L149.6,1013.7 L152.2,1011.6 L154.8,1009.4 L157.4,1007.3 L160.0,1005.1 L162.6,1003.0 L165.3,1000.8 L167.9,998.7 L170.5,996.5 L173.1,994.4 L175.8,992.2 L178.4,990.1 L181.0,987.9 L183.7,985.8 L186.3,983.6 L188.9,981.5 L191.6,979.3 L194.2,977.2 L196.9,975.1 L199.5,972.9 L202.1,970.8 L204.8,968.6 L207.4,966.5 L210.1,964.4 L212.7,962.2 L215.4,960.1 L218.0,958.0 L220.7,955.9 L223.3,953.7 L226.0,951.6 L228.7,949.5 L231.3,947.3 L234.0,945.2 L236.6,943.1 L239.3,941.0 L242.0,938.9 L244.6,936.7 L247.3,934.6 L249.9,932.5 L252.6,930.4 L255.3,928.3 L258.0,926.1 L260.6,924.0 L263.3,921.9 L266.0,919.8 L268.6,917.7 L271.3,915.6 L274.0,913.5 L276.7,911.4 L279.3,909.3 L282.0,907.1 L284.7,905.0 L287.4,902.9 L290.1,900.8 L292.8,898.7 L295.4,896.6 L298.1,894.5 L300.8,892.4 L303.5,890.3 L306.2,888.2 L308.9,886.1 L311.6,884.0 L314.3,881.9 L316.9,879.8 L319.6,877.7 L322.3,875.6 L325.0,873.5 L327.7,871.4 L330.4,869.3 L333.1,867.2 L335.8,865.1 L338.5,863.0 L341.1,860.9 L343.8,858.8 L346.5,856.7 L349.2,854.6 L351.9,852.5 L354.5,850.4 L357.2,848.3 L359.9,846.1 L362.6,844.0 L365.2,841.9 L367.9,839.8 L370.6,837.6 L373.2,835.5 L375.9,833.4 L378.5,831.2 L381.2,829.1 L383.8,826.9 L386.5,824.8 L389.1,822.6 L391.7,820.5 L394.4,818.3 L397.0,816.1 L399.6,813.9 L402.2,811.8 L404.8,809.6 L407.4,807.4 L410.0,805.2 L412.6,803.0 L415.2,800.8 L417.8,798.6 L420.4,796.3 L423.0,794.1 L425.5,791.9 L428.1,789.6 L430.6,787.4 L433.2,785.1 L435.7,782.9 L438.3,780.6 L440.8,778.3 L443.3,776.1 L445.8,773.8 L448.3,771.5 L450.8,769.2 L453.3,766.8 L455.8,764.5 L458.2,762.2 L460.7,759.8 L463.2,757.5 L465.6,755.1 L468.0,752.8 L470.5,750.4 L472.9,748.0 L475.3,745.6 L477.7,743.2 L480.1,740.8 L482.5,738.3 L484.8,735.9 L487.2,733.5 L489.5,731.0 L491.9,728.5 L494.2,726.0 L496.5,723.5 L498.8,721.0 L501.1,718.5 L503.4,716.0 L505.7,713.5 L507.9,710.9 L510.2,708.3 L512.4,705.8 L514.7,703.2 L516.9,700.6 L519.1,698.0 L521.3,695.3 L523.4,692.7 L525.6,690.0 L527.7,687.4 L529.9,684.7 L532.0,682.0 L534.1,679.3 L536.2,676.6 L538.3,673.8 L540.4,671.1 L542.4,668.3 L544.5,665.5 L546.5,662.7 L548.5,659.9 L550.5,657.1 L552.5,654.2 L554.4,651.4 L556.4,648.5 L558.3,645.6 L560.3,642.7 L562.2,639.8 L564.1,636.8" stroke-width="6" stroke="#008000"/>
</g>
<line x1="51" y1="1090.6" x2="654" y2="1090.6" stroke="#000" stroke-width="1.6"/>
<rect x="51.8" y="635.6" width="601.9" height="490" fill="none" stroke="#000" stroke-width="2.4"/>
<rect x="100" y="653.8" width="165.6" height="143.1" fill="#fff" stroke="#000" stroke-width="1.1"/>
<text transform="translate(154.8,681.2) scale(1,1.04)" font-family="Liberation Serif" font-size="25">S0_Ann.</text>
<text transform="translate(154.8,708.2) scale(1,1.04)" font-family="Liberation Serif" font-size="25">S2_Ann.</text>
<text transform="translate(154.8,735.0) scale(1,1.04)" font-family="Liberation Serif" font-size="25">S4_Ann.</text>
<text transform="translate(154.8,761.8) scale(1,1.04)" font-family="Liberation Serif" font-size="25">S6_Ann.</text>
<text transform="translate(154.8,788.6) scale(1,1.04)" font-family="Liberation Serif" font-size="25">S8_Ann.</text>
<rect x="131.8" y="668.7" width="6" height="4.8" fill="#000"/>
<circle cx="134.8" cy="698.7" r="3.2" fill="#ff0000"/>
<polygon points="135.6,721.6 139.3,728.8 131.9,728.8" fill="#0000ff"/>
<polygon points="135.7,759.6 139.4,752.2 132,752.2" fill="#ff00ff"/>
<polygon points="135.1,777.2 140.1,781.7 135.1,786.2 130.1,781.7" fill="#008000"/>
<text transform="translate(55.0,545.0) scale(1,1.04)" font-family="Liberation Serif" font-size="25" text-anchor="middle">1.50</text>
<text transform="translate(154.0,545.0) scale(1,1.04)" font-family="Liberation Serif" font-size="25" text-anchor="middle">1.75</text>
<text transform="translate(253.0,545.0) scale(1,1.04)" font-family="Liberation Serif" font-size="25" text-anchor="middle">2.00</text>
<text transform="translate(352.0,545.0) scale(1,1.04)" font-family="Liberation Serif" font-size="25" text-anchor="middle">2.25</text>
<text transform="translate(451.0,545.0) scale(1,1.04)" font-family="Liberation Serif" font-size="25" text-anchor="middle">2.50</text>
<text transform="translate(550.0,545.0) scale(1,1.04)" font-family="Liberation Serif" font-size="25" text-anchor="middle">2.75</text>
<text transform="translate(649.0,545.0) scale(1,1.04)" font-family="Liberation Serif" font-size="25" text-anchor="middle">3.00</text>
<text transform="translate(352.5,579.0) scale(1,1.04)" font-family="Liberation Serif" font-size="25" text-anchor="middle">photon energy, hv (eV)</text>
<text transform="translate(55.5,1153.5) scale(1,1.04)" font-family="Liberation Serif" font-size="25" text-anchor="middle">1.50</text>
<text transform="translate(154.5,1153.5) scale(1,1.04)" font-family="Liberation Serif" font-size="25" text-anchor="middle">1.75</text>
<text transform="translate(253.5,1153.5) scale(1,1.04)" font-family="Liberation Serif" font-size="25" text-anchor="middle">2.00</text>
<text transform="translate(352.5,1153.5) scale(1,1.04)" font-family="Liberation Serif" font-size="25" text-anchor="middle">2.25</text>
<text transform="translate(451.5,1153.5) scale(1,1.04)" font-family="Liberation Serif" font-size="25" text-anchor="middle">2.50</text>
<text transform="translate(550.5,1153.5) scale(1,1.04)" font-family="Liberation Serif" font-size="25" text-anchor="middle">2.75</text>
<text transform="translate(649.5,1153.5) scale(1,1.04)" font-family="Liberation Serif" font-size="25" text-anchor="middle">3.00</text>
<text transform="translate(350.0,1186.5) scale(1,1.04)" font-family="Liberation Serif" font-size="25" text-anchor="middle">photon energy, hv (eV)</text>
<text transform="translate(28.6,274) rotate(-90) scale(1,0.95)" font-family="Liberation Serif" font-size="25.6" text-anchor="middle">[F(R<tspan font-size="16" dy="7">&#945;</tspan><tspan dy="-7">)*h&#957;]</tspan><tspan font-size="17.5" dy="-10.5">2</tspan><tspan dy="10.5"> (a.u.)</tspan></text>
<text transform="translate(28.6,883.8) rotate(-90) scale(1,0.95)" font-family="Liberation Serif" font-size="25.6" text-anchor="middle">[F(R<tspan font-size="16" dy="7">&#945;</tspan><tspan dy="-7">)*h&#957;]</tspan><tspan font-size="17.5" dy="-10.5">2</tspan><tspan dy="10.5"> (a.u.)</tspan></text>
<text transform="translate(18.0,21.0) scale(1,1.04)" font-family="Liberation Serif" font-size="25">(<tspan font-style="italic">a</tspan>)</text>
<text transform="translate(10.0,633.0) scale(1,1.04)" font-family="Liberation Serif" font-size="25">(<tspan font-style="italic">b</tspan>)</text>
</svg>
</body></html>
